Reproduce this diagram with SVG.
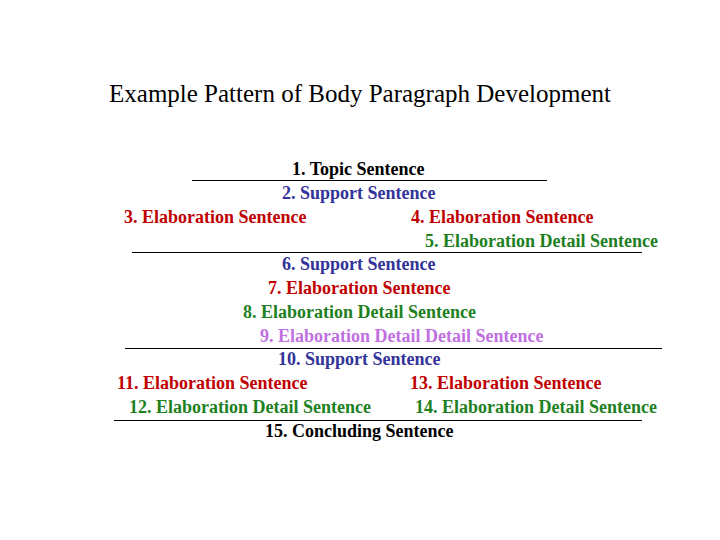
<svg xmlns="http://www.w3.org/2000/svg" width="720" height="540" viewBox="0 0 720 540">
<style>
text{font-family:"Liberation Serif","Times New Roman",serif;font-size:18px;font-weight:bold}
.t{font-weight:normal;font-size:25px;fill:#000}
.k{fill:#000}.b{fill:#333399}.r{fill:#c00000}.g{fill:#1e801e}.p{fill:#c070e0}
line{stroke:#000;stroke-width:1}
</style>
<rect width="720" height="540" fill="#fff"/>
<text class="t" x="360" y="102" text-anchor="middle">Example Pattern of Body Paragraph Development</text>
<g id="connectors">
<line x1="192" y1="180.5" x2="547" y2="180.5"/>
<line x1="132" y1="252.5" x2="642" y2="252.5"/>
<line x1="125" y1="348.5" x2="662" y2="348.5"/>
<line x1="114" y1="420.5" x2="642" y2="420.5"/>
</g>
<g id="n1"><text class="k" x="292" y="175">1. Topic Sentence</text></g>
<g id="n2"><text class="b" x="282" y="199">2. Support Sentence</text></g>
<g id="n3"><text class="r" x="124" y="223">3. Elaboration Sentence</text></g>
<g id="n4"><text class="r" x="411" y="223">4. Elaboration Sentence</text></g>
<g id="n5"><text class="g" x="425" y="247">5. Elaboration Detail Sentence</text></g>
<g id="n6"><text class="b" x="282" y="270">6. Support Sentence</text></g>
<g id="n7"><text class="r" x="268" y="294">7. Elaboration Sentence</text></g>
<g id="n8"><text class="g" x="243" y="318">8. Elaboration Detail Sentence</text></g>
<g id="n9"><text class="p" x="260" y="342">9. Elaboration Detail Detail Sentence</text></g>
<g id="n10"><text class="b" x="278" y="365">10. Support Sentence</text></g>
<g id="n11"><text class="r" x="117" y="389">11. Elaboration Sentence</text></g>
<g id="n13"><text class="r" x="410" y="389">13. Elaboration Sentence</text></g>
<g id="n12"><text class="g" x="129" y="413">12. Elaboration Detail Sentence</text></g>
<g id="n14"><text class="g" x="415" y="413">14. Elaboration Detail Sentence</text></g>
<g id="n15"><text class="k" x="265" y="437">15. Concluding Sentence</text></g>
</svg>
